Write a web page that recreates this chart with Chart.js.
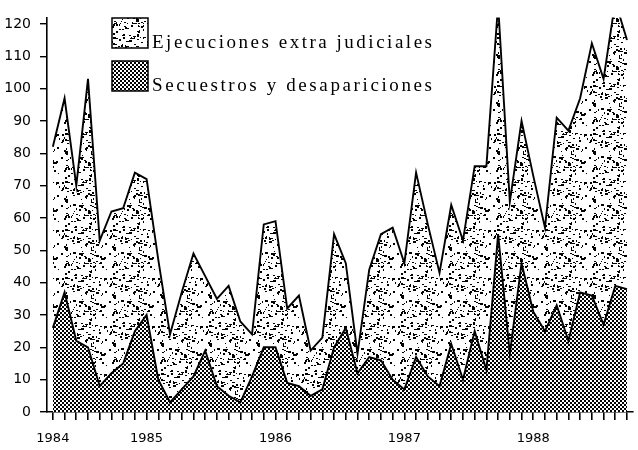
<!DOCTYPE html>
<html>
<head>
<meta charset="utf-8">
<script src="https://cdn.jsdelivr.net/npm/chart.js@4.4.0/dist/chart.umd.min.js"></script>
<style>
  html, body { margin: 0; padding: 0; background: #fff; }
  #wrap { width: 638px; height: 450px; position: relative; }
</style>
</head>
<body>
<div id="wrap"><canvas id="chart"></canvas></div>
<script>
// one entry per tick on the x axis, only the year ticks carry text
const periods = [
  '1984', '', '', '', '', '', '', '', '1985', '', '',
  '', '', '', '', '', '', '', '', '1986', '', '',
  '', '', '', '', '', '', '', '', '1987', '', '',
  '', '', '', '', '', '', '', '', '1988', '', '',
  '', '', '', '', '', ''
];

// upper line (ejecuciones extra judiciales)
const ejecuciones = [
  82, 97, 70, 103, 53, 62, 63, 74, 72, 47,
  24, 37, 49, 42, 35, 39, 28, 24, 58, 59,
  32, 36, 19, 23, 55, 46, 18, 44, 55, 57,
  46, 74, 58, 43, 64, 53, 76, 76, 126, 65,
  90, 73, 57, 91, 87, 97, 114, 103, 127, 115
];

// lower line (secuestros y desapariciones)
const secuestros = [
  26, 37, 22, 20, 8, 12, 15, 25, 30, 10,
  3, 7, 11, 19, 8, 5, 3, 11, 20, 20,
  9, 8, 5, 7, 20, 26, 12, 17, 16, 10,
  7, 17, 11, 8, 21, 10, 25, 13, 55, 18,
  46, 31, 25, 33, 22, 37, 36, 27, 39, 38
];

const yTicks = [0, 10, 20, 30, 40, 50, 60, 70, 80, 90, 100, 110, 120];
const legendItems = ['Ejecuciones extra judiciales', 'Secuestros y desapariciones'];

// stippled texture for the upper band
function makeStipple() {
  const c = document.createElement('canvas');
  c.width = 48; c.height = 48;
  const g = c.getContext('2d');
  g.fillStyle = '#fff';
  g.fillRect(0, 0, 48, 48);
  g.fillStyle = '#000';
  let s = 11;
  const rnd = () => (s = (s * 16807) % 2147483647) / 2147483647;
  for (let i = 0; i < 150; i++) {
    const x = Math.floor(rnd() * 48), y = Math.floor(rnd() * 48);
    const w = 1 + Math.round(rnd() * 1.7), h = 1 + Math.round(rnd() * 1.1);
    g.fillRect(x, y, w, h);
  }
  return g.createPattern(c, 'repeat');
}

// fine checker texture for the lower band
function makeChecker() {
  const c = document.createElement('canvas');
  c.width = 4; c.height = 4;
  const g = c.getContext('2d');
  g.fillStyle = '#fff';
  g.fillRect(0, 0, 4, 4);
  g.fillStyle = '#000';
  g.fillRect(0, 0, 2, 2);
  g.fillRect(2, 2, 2, 2);
  return g.createPattern(c, 'repeat');
}

const stipple = makeStipple();
const checker = makeChecker();

// legend with patterned boxes inside the plot, as in the print
const boxLegend = {
  id: 'boxLegend',
  afterDraw(chart) {
    const ctx = chart.ctx;
    const fills = [stipple, checker];
    legendItems.forEach((text, i) => {
      const top = 18 + i * 43;
      ctx.save();
      ctx.fillStyle = fills[i];
      ctx.fillRect(112, top, 36, 30);
      ctx.lineWidth = 1.5;
      ctx.strokeStyle = '#000';
      ctx.strokeRect(112, top, 36, 30);
      ctx.font = '19px "Liberation Serif", serif';
      ctx.fillStyle = '#000';
      ctx.textBaseline = 'alphabetic';
      const chars = [...text];
      const natural = ctx.measureText(text).width;
      const extra = (280 - natural) / (chars.length - 1);
      let x = 152;
      chars.forEach(ch => {
        ctx.fillText(ch, x, top + 30);
        x += ctx.measureText(ch).width + extra;
      });
      ctx.restore();
    });
  }
};

new Chart(document.getElementById('chart'), {
  type: 'line',
  data: {
    labels: periods,
    datasets: [{
      label: legendItems[0],
      data: ejecuciones,
      borderColor: '#000',
      borderWidth: 1.9,
      backgroundColor: stipple,
      fill: 1,
      pointRadius: 0,
      tension: 0
    }, {
      label: legendItems[1],
      data: secuestros,
      borderColor: '#000',
      borderWidth: 1.9,
      backgroundColor: checker,
      fill: 'origin',
      pointRadius: 0,
      tension: 0
    }]
  },
  options: {
    responsive: true,
    maintainAspectRatio: false,
    animation: false,
    layout: { padding: { top: 17, right: 0, left: 0, bottom: 0 } },
    plugins: {
      legend: { display: false },
      tooltip: { enabled: false },
      filler: { drawTime: 'beforeDatasetsDraw' }
    },
    scales: {
      x: {
        offset: true,
        grid: {
          drawOnChartArea: false,
          drawTicks: true,
          tickLength: 8,
          color: '#000',
          lineWidth: 1.6,
          offset: false
        },
        border: { display: true, color: '#000', width: 1.6 },
        ticks: { autoSkip: false, maxRotation: 0, padding: 11, color: '#000', font: { family: 'DejaVu Sans', size: 13 } },
        afterFit: s => { s.height = 38; }
      },
      y: {
        min: 0,
        max: 122,
        grid: { drawOnChartArea: false, tickLength: 7, color: '#000', lineWidth: 1.4 },
        border: { display: true, color: '#000', width: 1.6 },
        ticks: { padding: 9, color: '#000', font: { family: 'DejaVu Sans', size: 14 } },
        afterBuildTicks: s => { s.ticks = yTicks.map(v => ({ value: v })); },
        afterFit: s => { s.width = 47; }
      }
    }
  },
  plugins: [boxLegend]
});
</script>
</body>
</html>
